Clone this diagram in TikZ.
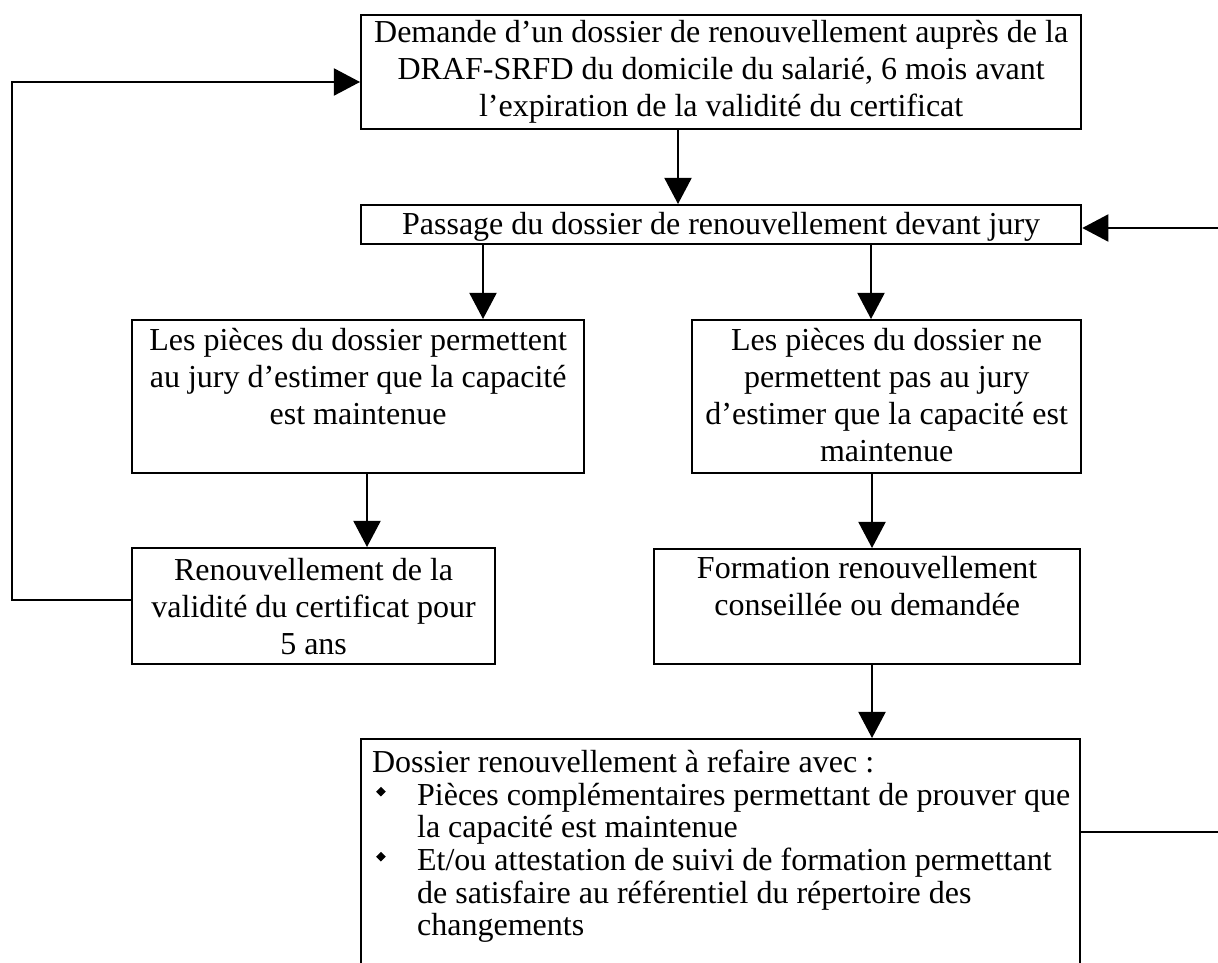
\documentclass[tikz,border=0pt]{standalone}
\usepackage{fontspec}
\setmainfont{Liberation Serif}
\usetikzlibrary{arrows.meta}
\newdimen\pxu
\pxu=0.375pt
% #1 text width, #2 box height, #3 top pad, #4 lines (all in px)
\newcommand\bx[4]{\parbox[c][#2\pxu][t]{#1\pxu}{\vspace*{#3\pxu}\centering\fontsize{12}{13.8}\selectfont
  \makebox[#1\pxu]{\begin{tabular}[t]{@{}c@{}}#4\end{tabular}}\par}}
\newcommand\bul{\raisebox{9\pxu}{\rotatebox{45}{\rule{6.8\pxu}{6.8\pxu}}}}
\newcommand\bitem{\noindent\llap{\makebox[45\pxu][l]{\hspace{4\pxu}\bul}}}
\begin{document}
\begin{tikzpicture}[x=0.375pt,y=-0.375pt,
  flowbox/.style={draw, line width=0.85pt, inner sep=0pt, anchor=north west},
  conn/.style={line width=0.6pt, -{Triangle[length=9.8pt,width=10.2pt]}},
  plainline/.style={line width=0.6pt}]
\useasboundingbox (0,0) rectangle (1218,962);
\clip (0,0) rectangle (1218,962);

\node[flowbox, minimum width=720\pxu, minimum height=114\pxu] (top) at (360,14)
  {\bx{716}{114}{2}{Demande d’un dossier de renouvellement auprès de la\\ DRAF-SRFD du domicile du salarié, 6 mois avant\\ l’expiration de la validité du certificat}};

\node[flowbox, minimum width=720\pxu, minimum height=39\pxu] (pass) at (360,204)
  {\bx{716}{39}{4}{Passage du dossier de renouvellement devant jury}};

\node[flowbox, minimum width=452\pxu, minimum height=153\pxu] (lm) at (131,319)
  {\bx{448}{153}{5}{Les pièces du dossier permettent\\ au jury d’estimer que la capacité\\ est maintenue}};

\node[flowbox, minimum width=389\pxu, minimum height=153\pxu] (rm) at (691,319)
  {\bx{385}{153}{5}{Les pièces du dossier ne\\ permettent pas au jury\\ d’estimer que la capacité est\\ maintenue}};

\node[flowbox, minimum width=363\pxu, minimum height=116\pxu] (ll) at (131,547)
  {\bx{359}{116}{7}{Renouvellement de la\\ validité du certificat pour\\ 5 ans}};

\node[flowbox, minimum width=426\pxu, minimum height=115\pxu] (rl) at (653,548)
  {\bx{422}{115}{4}{Formation renouvellement\\ conseillée ou demandée}};

\node[flowbox, minimum width=719\pxu, minimum height=300\pxu] (bot) at (360,738)
  {\hspace*{11\pxu}\parbox[c][300\pxu][t]{708\pxu}{\vspace*{11\pxu}\raggedright\fontsize{12}{12.2}\selectfont
   \strut Dossier renouvellement à refaire avec :\par
   {\leftskip=45\pxu\bitem Pièces complémentaires permettant de prouver que\\ la capacité est maintenue\par}
   {\leftskip=45\pxu\bitem Et/ou attestation de suivi de formation permettant\\ de satisfaire au référentiel du répertoire des\\ changements\par}}};

% connectors
\draw[conn] (top.south -| 678,0) -- (pass.north -| 678,0);
\draw[conn] (pass.south -| 483,0) -- (lm.north -| 483,0);
\draw[conn] (pass.south -| 871,0) -- (rm.north -| 871,0);
\draw[conn] (lm.south -| 367,0) -- (ll.north -| 367,0);
\draw[conn] (rm.south -| 872,0) -- (rl.north -| 872,0);
\draw[conn] (rl.south -| 872,0) -- (bot.north -| 872,0);

\draw[conn] (ll.west |- 0,600) -- (12,600) -- (12,82) -- (top.west |- 0,82);

\coordinate (rin) at (1218,228);
\draw[conn] (rin) -- (pass.east |- rin);

\coordinate (rout) at (1218,832);
\draw[plainline] (bot.east |- rout) -- (rout);
\end{tikzpicture}
\end{document}
